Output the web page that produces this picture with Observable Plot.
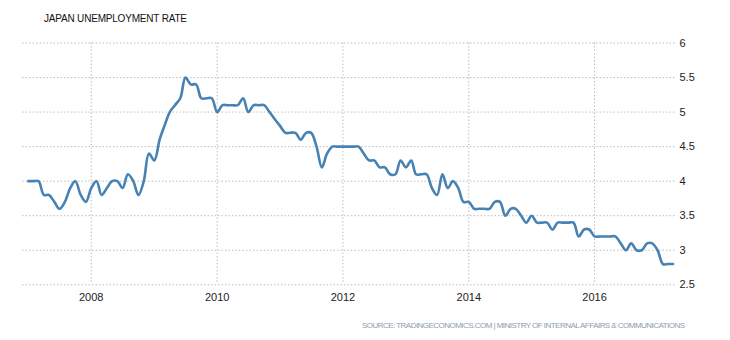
<!DOCTYPE html>
<html><head><meta charset="utf-8">
<script src="https://cdn.jsdelivr.net/npm/d3@7"></script>
<script src="https://cdn.jsdelivr.net/npm/@observablehq/plot@0.6"></script>
<style>body{margin:0;background:#fff;}</style>
</head><body><div id="chart"></div>
<script>
const title = "JAPAN UNEMPLOYMENT RATE";
const source = "SOURCE: TRADINGECONOMICS.COM | MINISTRY OF INTERNAL AFFAIRS & COMMUNICATIONS";
const years = [2007,2008,2009,2010,2011,2012,2013,2014,2015,2016,2017];
const rate2007 = [4.0,4.0,4.0,3.8,3.8,3.7,3.6,3.7,3.9,4.0,3.8,3.7];
const rate2008 = [3.9,4.0,3.8,3.9,4.0,4.0,3.9,4.1,4.0,3.8,4.0,4.4];
const rate2009 = [4.3,4.6,4.8,5.0,5.1,5.2,5.5,5.4,5.4,5.2,5.2,5.2];
const rate2010 = [5.0,5.1,5.1,5.1,5.1,5.2,5.0,5.1,5.1,5.1,5.0,4.9];
const rate2011 = [4.8,4.7,4.7,4.7,4.6,4.7,4.7,4.5,4.2,4.4,4.5,4.5];
const rate2012 = [4.5,4.5,4.5,4.5,4.4,4.3,4.3,4.2,4.2,4.1,4.1,4.3];
const rate2013 = [4.2,4.3,4.1,4.1,4.1,3.9,3.8,4.1,3.9,4.0,3.9,3.7];
const rate2014 = [3.7,3.6,3.6,3.6,3.6,3.7,3.7,3.5,3.6,3.6,3.5,3.4];
const rate2015 = [3.5,3.4,3.4,3.4,3.3,3.4,3.4,3.4,3.4,3.2,3.3,3.3];
const rate2016 = [3.2,3.2,3.2,3.2,3.2,3.1,3.0,3.1,3.0,3.0,3.1,3.1];
const rate2017 = [3.0,2.8,2.8,2.8];
const yTicks = [2.5,3,3.5,4,4.5,5,5.5,6];
const xTickYears = [2008,2010,2012,2014,2016];

const byYear = [rate2007,rate2008,rate2009,rate2010,rate2011,rate2012,rate2013,rate2014,rate2015,rate2016,rate2017];
const data = [];
byYear.forEach((arr, yi) => arr.forEach((v, m) => data.push({date: new Date(years[yi], m, 1), value: v})));
const xTicks = xTickYears.map(y => new Date(y, 0, 1));

const font = "'Liberation Sans', Arial, sans-serif";
const svg = Plot.plot({
  width: 730,
  height: 340,
  marginTop: 42.5,
  marginBottom: 55.7,
  marginLeft: 22,
  marginRight: 55,
  style: {fontFamily: font, fontSize: "11px", color: "#222", background: "#fff"},
  x: {type: "time", domain: [new Date(2006, 10, 28), new Date(2017, 3, 15)], ticks: xTicks},
  y: {domain: [2.5, 6], ticks: yTicks},
  marks: [
    Plot.gridY(yTicks, {stroke: "#bdbdbd", strokeOpacity: 1, strokeDasharray: "1.5,2"}),
    Plot.gridX(xTicks, {stroke: "#bdbdbd", strokeOpacity: 1, strokeDasharray: "1.5,2"}),
    Plot.axisY(yTicks, {anchor: "right", tickSize: 0, tickPadding: 4, tickFormat: d => String(d), label: null, fontSize: 11}),
    Plot.axisX(xTicks, {anchor: "bottom", tickSize: 0, tickPadding: 8, tickFormat: d => String(d.getFullYear()), label: null, fontSize: 11}),
    Plot.line(data, {x: "date", y: "value", stroke: "#4682b4", strokeWidth: 2.6, curve: "catmull-rom"})
  ]
});
const s = d3.select(svg);
s.append("text").attr("x", 44).attr("y", 22).attr("fill", "#111")
  .attr("text-anchor", "start")
  .attr("font-family", font).attr("font-size", 10)
  .attr("textLength", 143).attr("lengthAdjust", "spacing").text(title);
s.append("text").attr("x", 362).attr("y", 328.3).attr("fill", "#8c9cb0")
  .attr("text-anchor", "start")
  .attr("font-family", font).attr("font-size", 8)
  .attr("textLength", 323).attr("lengthAdjust", "spacing").text(source);
document.getElementById("chart").appendChild(svg);
</script>
</body></html>
